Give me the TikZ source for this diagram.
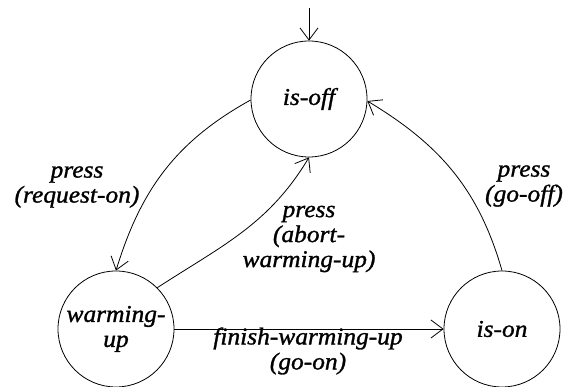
\documentclass[tikz,border=0pt]{standalone}
\usepackage{fontspec}
\setmainfont{Liberation Serif}[ItalicFont={Liberation Serif Italic},ItalicFeatures={FakeBold=1.2,FakeStretch=1.06}]
\usetikzlibrary{arrows.meta}
\newcommand{\lblfont}{\fontsize{24}{25}\selectfont\itshape}
\begin{document}
\begin{tikzpicture}[x=1pt,y=1pt,
  state/.style={circle,draw,line width=0.8pt,minimum size=116pt,inner sep=0pt,font=\lblfont,align=center},
  lbl/.style={font=\lblfont,align=center,inner sep=0pt},
  edge/.style={draw,line width=0.8pt,-{Straight Barb[length=12pt,width=18pt,line width=0.8pt]}}]
\useasboundingbox (0,0) rectangle (563,387);
\node[state] (off) at (309,288) {is-off};
\node[state] (warm) at (116,58) {warming-\\up};
\node[state] (on) at (502,58) {is-on};
\coordinate (init) at (309,379);
\draw[edge] (init) -- (off);
\draw[edge] (off.181) to[out=209,in=73] (warm.90);
\draw[edge] (warm.45) to[out=33,in=239] (off.270);
\draw[edge] (on.90) to[out=106,in=329] (off.-2);
\draw[edge] (warm.east) -- (on.west);
\node[lbl] (l1) at (77,200) {press\\(request-on)};
\node[lbl] (l2) at (309,148) {press\\(abort-\\warming-up)};
\node[lbl] (l3) at (524,201) {press\\(go-off)};
\node[lbl] (l4) at (308,36) {finish-warming-up\\(go-on)};
\end{tikzpicture}
\end{document}
